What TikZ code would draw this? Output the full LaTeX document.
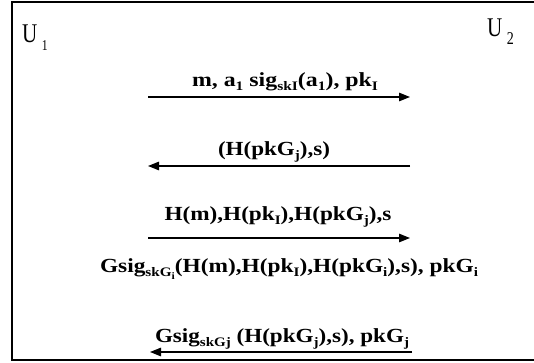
\documentclass[tikz,border=0pt]{standalone}
\usepackage{fontspec}
\setmainfont{Liberation Serif}
\newfontfamily\labfont{Liberation Serif Bold}
\newfontfamily\ufont{Liberation Serif}[FakeStretch=0.78]
\usetikzlibrary{arrows.meta}
\newcommand\sbx[1]{\raisebox{-4pt}{\fontsize{13}{13}\selectfont #1}}
\newcommand\ssbx[1]{\raisebox{-3.5pt}{\fontsize{10}{10}\selectfont #1}}
\newlength\fitlen
\newcommand\fitw[2]{\settowidth\fitlen{#2}\pgfmathsetmacro\fitsx{#1/\fitlen}\scalebox{\fitsx}[1]{#2}}
\begin{document}
\begin{tikzpicture}[x=1pt,y=1pt,
  lab/.style={inner sep=0pt, anchor=base, font=\labfont\fontsize{20}{20}\selectfont},
  msg/.style={line width=1.2pt, -{Triangle[length=11pt,width=8.5pt]}},
  frame/.style={line width=1.3pt},
  party/.style={anchor=base west, inner sep=0pt, font=\ufont\fontsize{27}{27}\selectfont}]
\useasboundingbox (0,0) rectangle (534,362);
\draw[frame] (534,360) -- (12,360) -- (12,2) -- (534,2);
\node[party] (u1) at (22,319) {U\,\raisebox{-8pt}{\fontsize{15}{15}\selectfont 1}};
\node[party] (u2) at (487,325) {U\,\raisebox{-8pt}{\fontsize{18}{18}\selectfont 2}};
\node[lab] (l1) at (285,276) {\fitw{186}{m, a\sbx{1} sig\sbx{skI}(a\sbx{1}), pk\sbx{I}}};
\node[lab] (l2) at (274,207) {\fitw{112}{(H(pkG\sbx{j}),s)}};
\node[lab] (l3) at (278,142) {\fitw{227}{H(m),H(pk\sbx{I}),H(pkG\sbx{j}),s}};
\node[lab] (l4) at (289,90) {\fitw{378}{Gsig\sbx{skG\ssbx{i}}(H(m),H(pk\sbx{I}),H(pkG\sbx{i}),s), pkG\sbx{i}}};
\node[lab] (l5) at (282,20) {\fitw{254}{Gsig\sbx{skGj} (H(pkG\sbx{j}),s), pkG\sbx{j}}};
\coordinate (a1s) at (148,265); \coordinate (a1e) at (410,265);
\coordinate (a2s) at (410,196); \coordinate (a2e) at (148,196);
\coordinate (a3s) at (148,124); \coordinate (a3e) at (410,124);
\coordinate (a5s) at (412,10); \coordinate (a5e) at (150,10);
\draw[msg] (a1s) -- (a1e);
\draw[msg] (a2s) -- (a2e);
\draw[msg] (a3s) -- (a3e);
\draw[msg] (a5s) -- (a5e);
\end{tikzpicture}
\end{document}
